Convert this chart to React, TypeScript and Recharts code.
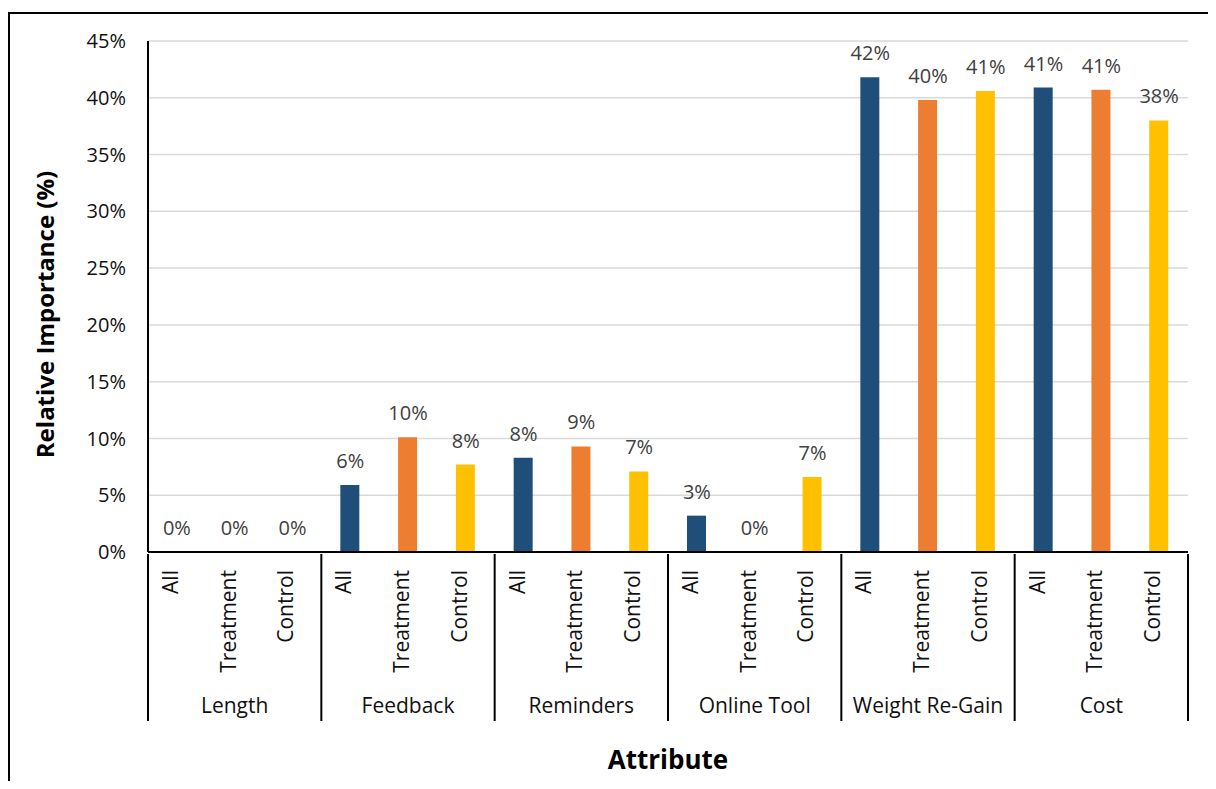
import React from 'react';
import {
  ComposedChart,
  Bar,
  Line,
  XAxis,
  YAxis,
  CartesianGrid,
  Cell,
  LabelList,
} from 'recharts';

// Attribute groups and the respondent subgroups shown under each
const groups = ['Length', 'Feedback', 'Reminders', 'Online Tool', 'Weight Re-Gain', 'Cost'];
const subgroups = ['All', 'Treatment', 'Control'];

// Relative importance (%) per subgroup, one value per attribute
const allValues = [0, 5.9, 8.3, 3.2, 41.8, 40.9];
const treatmentValues = [0, 10.1, 9.3, 0, 39.8, 40.7];
const controlValues = [0, 7.7, 7.1, 6.6, 40.6, 38.0];

const yTicks = [0, 5, 10, 15, 20, 25, 30, 35, 40, 45];

const subgroupColors: Record<string, string> = {
  All: '#1F4E79',
  Treatment: '#ED7D31',
  Control: '#FFC000',
};

const seriesBySubgroup: Record<string, number[]> = {
  All: allValues,
  Treatment: treatmentValues,
  Control: controlValues,
};

// flatten into one row per bar: group-major, subgroup-minor
const rows = groups.flatMap((group, g) =>
  subgroups.map((sub) => ({
    id: `${group}-${sub}`,
    group,
    sub,
    value: seriesBySubgroup[sub][g],
  }))
);

const WIDTH = 1200;
const HEIGHT = 773;
const MARGIN = { top: 33, right: 20, bottom: 0, left: 0 };
const Y_AXIS_WIDTH = 140;
const X_AXIS_HEIGHT = 229;
const FONT = '"Open Sans", Lato, sans-serif';

// Two-level category tick: rotated subgroup name, group name under the
// middle bar, and separators between groups.
const CategoryTick = (props: any) => {
  const { x, y, payload, index } = props;
  const plotWidth = WIDTH - MARGIN.left - MARGIN.right - Y_AXIS_WIDTH;
  const band = payload && payload.offset ? payload.offset * 2 : plotWidth / rows.length;
  const row = rows[index];
  if (!row) return null;
  const pos = index % subgroups.length;
  const ty = y + 16;
  return (
    <g>
      <text
        x={x + 1}
        y={ty}
        transform={`rotate(-90 ${x + 1} ${ty})`}
        textAnchor="end"
        fontSize={21}
        fill="#111"
        fontFamily={FONT}
      >
        {row.sub}
      </text>
      {pos === 1 && (
        <text x={x} y={y + 159} textAnchor="middle" fontSize={21} fill="#111" fontFamily={FONT}>
          {row.group}
        </text>
      )}
      {pos === 0 && (
        <line x1={x - band / 2} x2={x - band / 2} y1={y} y2={y + 167} stroke="#000" strokeWidth={2} />
      )}
      {index === rows.length - 1 && (
        <line x1={x + band / 2} x2={x + band / 2} y1={y} y2={y + 167} stroke="#000" strokeWidth={2} />
      )}
    </g>
  );
};

const YTitle = (props: any) => {
  const { viewBox } = props;
  const cx = viewBox.x + 36;
  const cy = viewBox.y + viewBox.height / 2 + 18;
  return (
    <text
      x={cx}
      y={cy}
      transform={`rotate(-90 ${cx} ${cy})`}
      textAnchor="middle"
      dominantBaseline="central"
      fontSize={24}
      fontWeight="bold"
      fill="#000"
      fontFamily={FONT}
    >
      Relative Importance (%)
    </text>
  );
};

const XTitle = (props: any) => {
  const { viewBox } = props;
  return (
    <text
      x={viewBox.x + viewBox.width / 2}
      y={viewBox.y + 217}
      textAnchor="middle"
      fontSize={26}
      fontWeight="bold"
      fill="#000"
      fontFamily={FONT}
    >
      Attribute
    </text>
  );
};

export default function App() {
  return (
    <div
      style={{
        position: 'relative',
        width: WIDTH,
        height: HEIGHT,
        overflow: 'hidden',
        fontFamily: FONT,
      }}
    >
      {/* outer frame, only its top and left edges fall inside the page */}
      <div
        style={{
          position: 'absolute',
          left: 0,
          top: 4,
          width: WIDTH + 40,
          height: HEIGHT + 40,
          borderTop: '2px solid #000',
          borderLeft: '2px solid #000',
          pointerEvents: 'none',
        }}
      />
      <ComposedChart width={WIDTH} height={HEIGHT} data={rows} margin={MARGIN}>
        <CartesianGrid vertical={false} stroke="#d9d9d9" strokeWidth={1.5} />
        <XAxis
          dataKey="id"
          interval={0}
          height={X_AXIS_HEIGHT}
          tickSize={0}
          tickLine={false}
          tick={<CategoryTick />}
          axisLine={{ stroke: '#000', strokeWidth: 2 }}
          label={<XTitle />}
        />
        <XAxis
          xAxisId="top"
          orientation="top"
          dataKey="id"
          height={0}
          tick={false}
          tickLine={false}
          axisLine={{ stroke: '#000', strokeWidth: 2 }}
        />
        <YAxis
          width={Y_AXIS_WIDTH}
          domain={[0, 45]}
          ticks={yTicks}
          interval={0}
          tickSize={0}
          tickMargin={22}
          tickLine={false}
          tickFormatter={(v: number) => `${v}%`}
          tick={{ fontSize: 20, fill: '#111', fontFamily: FONT }}
          axisLine={{ stroke: '#000', strokeWidth: 2 }}
          label={<YTitle />}
        />
        <YAxis
          yAxisId="right"
          orientation="right"
          width={0}
          domain={[0, 45]}
          tick={false}
          tickLine={false}
          axisLine={{ stroke: '#000', strokeWidth: 2 }}
        />
        <Bar dataKey="value" barSize={19} isAnimationActive={false}>
          {rows.map((r) => (
            <Cell key={r.id} fill={subgroupColors[r.sub]} />
          ))}
        </Bar>
        {/* invisible series carrying the value labels, so zero bars get one too */}
        <Line
          dataKey="value"
          stroke="none"
          dot={false}
          activeDot={false}
          legendType="none"
          isAnimationActive={false}
        >
          <LabelList
            dataKey="value"
            position="top"
            offset={17}
            formatter={(v: any) => `${Math.round(Number(v))}%`}
            style={{ fontSize: 20, fill: '#404040', fontFamily: FONT }}
          />
        </Line>
      </ComposedChart>
    </div>
  );
}
